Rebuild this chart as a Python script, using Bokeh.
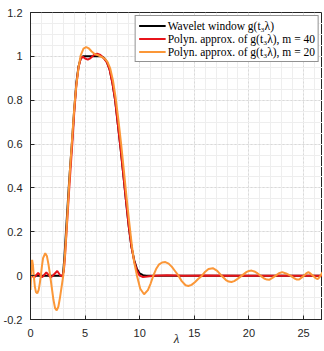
from bokeh.plotting import figure
from bokeh.models import FixedTicker, Range1d
from bokeh.embed import file_html
from bokeh.resources import INLINE

# ---- data ----
lam_window = [0, 2.95, 3.0, 3.1, 3.2, 3.35, 3.5, 3.65, 3.8, 4.0, 4.2, 4.4, 4.6, 4.8,
              6.5, 6.75, 7.0, 7.25, 7.5, 7.75, 8.0, 8.25, 8.5, 8.75, 9.0, 9.25, 9.5,
              9.75, 10.0, 10.3, 10.6, 26.74]
g_window = [0, 0, 0.02, 0.08, 0.16, 0.28, 0.4, 0.51, 0.61, 0.755, 0.88, 0.955, 0.99, 1.0,
            1.0, 0.992, 0.974, 0.94, 0.88, 0.8, 0.69, 0.58, 0.46, 0.34, 0.224, 0.13, 0.07,
            0.03, 0.01, 0.002, 0, 0]

lam_m40 = [0, 0.2, 0.4, 0.7, 1.0, 1.1, 1.45, 1.85, 2.1, 2.45, 2.7, 2.9, 3.05, 3.15, 3.25,
           3.4, 3.55, 3.7, 3.85, 4.0, 4.2, 4.4, 4.6, 4.8, 5.0, 5.25, 5.5, 5.8, 6.1, 6.4,
           6.7, 7.0, 7.25, 7.5, 7.75, 8.0, 8.25, 8.5, 8.75, 9.0, 9.25, 9.5, 9.75, 10.0,
           10.3, 10.7, 11.3, 12.5, 14.0, 16.0, 20.0, 26.74]
g_m40 = [0.003, -0.004, -0.006, 0.012, -0.005, -0.006, 0.015, -0.008, 0.003, 0.021, 0.003,
         -0.004, 0.02, 0.08, 0.16, 0.28, 0.4, 0.51, 0.62, 0.74, 0.87, 0.95, 0.99, 0.998,
         0.99, 0.985, 0.992, 1.006, 1.012, 1.006, 0.992, 0.972, 0.938, 0.878, 0.8, 0.69,
         0.58, 0.46, 0.34, 0.225, 0.13, 0.065, 0.022, 0.0, -0.006, -0.004, 0.0, 0.002,
         -0.001, 0.001, 0.0, 0.0]

lam_m20 = [0, 0.05, 0.1, 0.15, 0.22, 0.3, 0.4, 0.5, 0.62, 0.75, 0.85, 0.95, 1.05, 1.15,
           1.35, 1.5, 1.65, 1.8, 1.95, 2.1, 2.25, 2.4, 2.55, 2.7, 2.85, 3.0, 3.15, 3.3,
           3.45, 3.6, 3.75, 3.9, 4.05, 4.2, 4.4, 4.6, 4.85, 5.1, 5.35, 5.6, 5.9, 6.2, 6.5,
           6.8, 7.05, 7.3, 7.55, 7.8, 8.05, 8.3, 8.55, 8.8, 9.05, 9.3, 9.5, 9.75, 10.05,
           10.4, 10.75, 11.0, 11.25, 11.5, 11.75, 12.05, 12.35, 12.65, 12.95, 13.25, 13.55,
           13.85, 14.2, 14.45, 14.75, 15.05, 15.35, 15.7, 16.0, 16.3, 16.7, 17.1, 17.45,
           17.9, 18.15, 18.4, 18.65, 18.9, 19.35, 19.8, 20.0, 20.25, 20.5, 20.8, 21.05,
           21.4, 21.65, 21.85, 22.15, 22.45, 22.75, 23.05, 23.4, 23.8, 24.15, 24.4, 24.6,
           24.85, 25.05, 25.25, 25.45, 25.65, 25.9, 26.1, 26.3, 26.5, 26.74]
g_m20 = [-0.065, 0.0, 0.055, 0.072, 0.05, 0.0, -0.05, -0.075, -0.081, -0.065, -0.035, 0.0,
         0.045, 0.08, 0.102, 0.09, 0.05, 0.0, -0.055, -0.11, -0.148, -0.158, -0.142, -0.1,
         -0.05, 0.0, 0.09, 0.21, 0.34, 0.47, 0.58, 0.69, 0.79, 0.87, 0.95, 1.005, 1.035,
         1.042, 1.036, 1.022, 1.01, 1.005, 0.998, 0.99, 0.975, 0.945, 0.89, 0.81, 0.71,
         0.6, 0.48, 0.355, 0.24, 0.13, 0.06, 0.0, -0.06, -0.085, -0.066, -0.036, 0.0, 0.03,
         0.05, 0.06, 0.062, 0.055, 0.04, 0.02, 0.0, -0.025, -0.044, -0.047, -0.042, -0.03,
         -0.015, 0.0, 0.018, 0.03, 0.034, 0.022, 0.002, -0.02, -0.027, -0.029, -0.025,
         -0.017, 0.0, 0.017, 0.021, 0.023, 0.019, 0.01, 0.0, -0.013, -0.018, -0.019, -0.01,
         0.0, 0.011, 0.016, 0.01, 0.0, -0.012, -0.018, -0.018, -0.008, 0.0, 0.01, 0.016,
         0.009, -0.002, -0.011, -0.016, -0.005, 0.016]

x_ticks = [0, 5, 10, 15, 20, 25]
x_minor = list(range(0, 27))
y_ticks = [-0.2, 0, 0.2, 0.4, 0.6, 0.8, 1.0, 1.2]
y_tick_labels = ["-0.2", "0", "0.2", "0.4", "0.6", "0.8", "1", "1.2"]
y_minor = [round(-0.2 + 0.05 * i, 2) for i in range(29)]

x_label = "\u03bb"
labels = ["Wavelet window g(t\u2083\u03bb)",
          "Polyn. approx. of g(t\u2083\u03bb), m = 40",
          "Polyn. approx. of g(t\u2083\u03bb), m = 20"]
colors = ["#000000", "#e8141b", "#fb9738"]

# ---- figure ----
p = figure(frame_width=292, frame_height=307, output_backend="svg", toolbar_location=None,
           x_range=Range1d(0, 26.74), y_range=Range1d(-0.2, 1.2),
           min_border_left=24, min_border_right=0, min_border_top=12, min_border_bottom=23)
p.background_fill_color = "white"
p.border_fill_color = "white"
p.outline_line_color = "#262626"
p.outline_line_width = 1

p.line(lam_window, g_window, color=colors[0], line_width=2, legend_label=labels[0])
p.line(lam_m40, g_m40, color=colors[1], line_width=2, legend_label=labels[1])
p.line(lam_m20, g_m20, color=colors[2], line_width=2, legend_label=labels[2])

p.xaxis.ticker = FixedTicker(ticks=x_ticks, minor_ticks=x_minor)
p.yaxis.ticker = FixedTicker(ticks=y_ticks, minor_ticks=y_minor)
p.yaxis.major_label_overrides = {t: l for t, l in zip(y_ticks, y_tick_labels)}

for ax in (p.xaxis[0], p.yaxis[0]):
    ax.axis_line_color = "#262626"
    ax.major_tick_line_color = "#262626"
    ax.major_tick_in = 4
    ax.major_tick_out = 0
    ax.minor_tick_line_color = None
    ax.major_label_text_font = "Liberation Sans"
    ax.major_label_text_font_size = "11px"
    ax.major_label_text_color = "#262626"

p.yaxis.major_label_standoff = 4
p.xaxis.major_label_standoff = 5
p.xaxis.axis_label = x_label
p.xaxis.axis_label_text_font = "Liberation Serif"
p.xaxis.axis_label_text_font_style = "italic"
p.xaxis.axis_label_text_font_size = "13px"
p.xaxis.axis_label_text_color = "#262626"
p.xaxis.axis_label_standoff = -9

for g in (p.xgrid[0], p.ygrid[0]):
    g.grid_line_color = "#d9d9d9"
    g.grid_line_dash = "2 2"
    g.grid_line_width = 1
    g.minor_grid_line_color = "#eeeeee"
    g.minor_grid_line_width = 1

leg = p.legend[0]
leg.location = "top_right"
leg.margin = 3
leg.padding = 3
leg.spacing = 0
leg.glyph_width = 27
leg.glyph_height = 13
leg.label_height = 13
leg.label_standoff = 2
leg.label_text_font = "Liberation Serif"
leg.label_text_font_size = "11.5px"
leg.label_text_color = "#000000"
leg.border_line_color = "#262626"
leg.border_line_width = 1
leg.background_fill_alpha = 1

open("out.html", "w").write(file_html(p, INLINE))
